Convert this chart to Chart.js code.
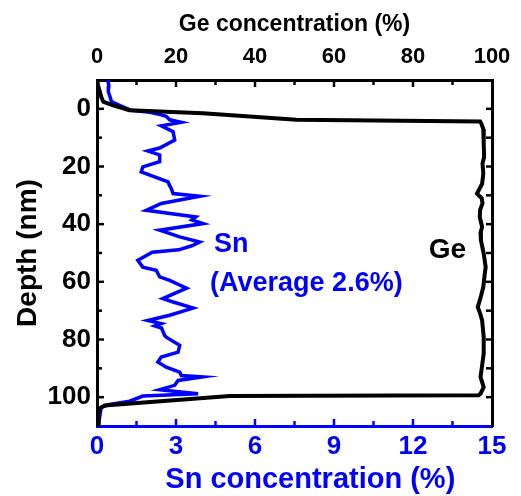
<!DOCTYPE html>
<html>
<head>
<meta charset="utf-8">
<script src="https://cdn.jsdelivr.net/npm/chart.js@4"></script>
<style>
  body { margin: 0; background: #fff; }
</style>
</head>
<body>
<canvas id="depthChart" width="521" height="496"></canvas>
<script>
// depth profile (depth in nm, concentration in %)
const snDepth = [-10, -8, -6, -4, -2.5, -1, 0.5, 1.2, 2, 2.6, 3.8, 4.7, 5.9, 7.9, 10.8, 13.6, 14.6, 16, 18.3,
  20.1, 21.9, 25.3, 26.5, 27.6, 29.4, 30.3, 32.8, 35.2, 37.5, 38.5, 39.8, 42.1, 44.4, 46.2, 47.5, 48.9, 49.7,
  52.5, 54.9, 56, 58.3, 59.5, 62.2, 65.8, 67, 69.1, 71.6, 73.4, 74.5, 75.3, 76, 78.6, 79.2, 82, 84.4, 86.1,
  87.8, 89.6, 91.3, 92.5, 93, 94.2, 95.9, 97.4, 98, 98.8, 99.6, 101.4, 102.5, 103.5, 107, 110];
const snConc = [0.41, 0.45, 0.43, 0.5, 0.55, 0.9, 1.3, 2.0, 2.4, 2.63, 2.76, 3.2, 2.44, 2.89, 2.95, 2.38, 1.93, 2.38, 2.38,
  1.74, 1.68, 2.7, 2.75, 2.82, 2.89, 3.9, 2.44, 1.87, 3.75, 3.6, 4.03, 2.38, 3.14, 3.9, 3.6, 3.1, 2.1,
  1.55, 1.74, 2.25, 2.38, 2.76, 3.4, 2.5, 2.89, 3.65, 2.76, 1.93, 2.44, 2.2, 2.45, 2.57, 2.63, 3.14, 3.08, 2.44,
  2.31, 2.63, 3.14, 3.2, 4.0, 3.08, 2.95, 2.38, 3.01, 3.84, 1.74, 1.24, 0.48, 0.16, 0.1, 0.05];

const geDepth = [-10, -8, -6, -4, -2.5, -1.5, 0.5, 1.5, 3.8, 4.4, 5.1, 7, 12, 16.7, 19, 22.4, 26, 29.4, 31, 32.8,
  35, 37.5, 41, 43, 45.6, 50.2, 54.9, 58, 61.8, 65, 68.8, 71, 73.4, 79.2, 84.9, 90, 93, 96.5, 98.8, 99.3,
  99.6, 102.9, 104, 106, 110];
const geConc = [0, 0.3, 0.7, 1.1, 1.6, 3.5, 8.2, 26.8, 50.5, 97, 97.3, 97.8, 97.9, 98, 97.6, 97.8, 97.5, 96.2, 97.4, 97.6,
  97, 96.9, 97.5, 97.1, 97.2, 97.9, 98.4, 98.1, 97.8, 97.2, 96.4, 97, 97.5, 97.9, 97.9, 97.4, 97.1, 97.9, 97.1, 96.6,
  33.6, 1.9, 0.6, 0.4, 0.4];

const snTicks = [0, 3, 6, 9, 12, 15];
const geTicks = [0, 20, 40, 60, 80, 100];
const depthTicks = [0, 20, 40, 60, 80, 100];

const BLUE = '#0000ff';
const FONT = 'Liberation Sans, Arial, sans-serif';

function toPoints(xs, ys) {
  var pts = [];
  for (var i = 0; i < xs.length; i++) pts.push({ x: xs[i], y: ys[i] });
  return pts;
}

// tick marks drawn on the inside of the frame
const innerTicks = {
  id: 'innerTicks',
  afterDraw(chart) {
    const ctx = chart.ctx;
    const a = chart.chartArea;
    const s = chart.scales;
    ctx.save();
    ctx.lineWidth = 2.5;
    // bottom (Sn)
    ctx.strokeStyle = BLUE;
    s.x.ticks.forEach(function (t) {
      if (t.value <= 0 || t.value >= 15) return;
      const px = s.x.getPixelForValue(t.value);
      const len = snTicks.includes(t.value) ? 7 : 5;
      ctx.beginPath(); ctx.moveTo(px, a.bottom); ctx.lineTo(px, a.bottom - len); ctx.stroke();
    });
    // top (Ge)
    ctx.strokeStyle = '#000';
    s.x2.ticks.forEach(function (t) {
      if (t.value <= 0 || t.value >= 100) return;
      const px = s.x2.getPixelForValue(t.value);
      const len = geTicks.includes(t.value) ? 7 : 5;
      ctx.beginPath(); ctx.moveTo(px, a.top); ctx.lineTo(px, a.top + len); ctx.stroke();
    });
    // left and right (depth)
    s.y.ticks.forEach(function (t) {
      if (t.value <= -10 || t.value >= 110) return;
      const py = s.y.getPixelForValue(t.value);
      const len = depthTicks.includes(t.value) ? 7 : 5;
      ctx.beginPath(); ctx.moveTo(a.left, py); ctx.lineTo(a.left + len, py); ctx.stroke();
      ctx.beginPath(); ctx.moveTo(a.right, py); ctx.lineTo(a.right - 6, py); ctx.stroke();
    });
    ctx.restore();
  }
};

// text labels inside the plot, plus the Sn axis title (sits a bit right of centre)
const plotLabels = {
  id: 'plotLabels',
  afterDraw(chart) {
    const ctx = chart.ctx;
    const s = chart.scales;
    ctx.save();
    ctx.textAlign = 'center';
    ctx.textBaseline = 'middle';
    ctx.fillStyle = BLUE;
    ctx.font = 'bold 27px ' + FONT;
    ctx.fillText('Sn', s.x.getPixelForValue(5.1), s.y.getPixelForValue(47));
    ctx.fillText('(Average 2.6%)', s.x.getPixelForValue(7.95), s.y.getPixelForValue(60.5));
    ctx.font = 'bold 29px ' + FONT;
    ctx.fillText('Sn concentration (%)', s.x.getPixelForValue(8.1), 480);
    ctx.fillStyle = '#000';
    ctx.font = 'bold 28px ' + FONT;
    ctx.fillText('Ge', s.x2.getPixelForValue(88.7), s.y.getPixelForValue(49));
    ctx.restore();
  }
};

var ctx = document.getElementById('depthChart').getContext('2d');
var myChart = new Chart(ctx, {
  type: 'scatter',
  data: {
    datasets: [{
      label: 'Ge',
      data: toPoints(geConc, geDepth),
      xAxisID: 'x2',
      yAxisID: 'y',
      showLine: true,
      borderColor: '#000',
      borderWidth: 4,
      pointRadius: 0,
      tension: 0
    }, {
      label: 'Sn',
      data: toPoints(snConc, snDepth),
      xAxisID: 'x',
      yAxisID: 'y',
      showLine: true,
      borderColor: BLUE,
      borderWidth: 3.5,
      pointRadius: 0,
      tension: 0
    }]
  },
  options: {
    responsive: false,
    animation: false,
    layout: { padding: 0 },
    plugins: {
      legend: { display: false },
      tooltip: { enabled: false }
    },
    scales: {
      x: {
        type: 'linear',
        position: 'bottom',
        min: 0, max: 15,
        afterFit: function (sc) { sc.height = 70; },
        grid: { display: false, drawTicks: false },
        border: { display: true, color: BLUE, width: 3 },
        ticks: {
          stepSize: 1.5,
          autoSkip: false,
          maxRotation: 0,
          padding: 5,
          color: BLUE,
          font: { family: FONT, size: 26, weight: 'bold' },
          callback: function (v) { return snTicks.includes(v) ? String(v) : ''; }
        },
        title: { display: false }
      },
      x2: {
        type: 'linear',
        position: 'top',
        min: 0, max: 100,
        afterFit: function (sc) { sc.height = 80; },
        grid: { display: false, drawTicks: false },
        border: { display: true, color: '#000', width: 3 },
        ticks: {
          stepSize: 10,
          autoSkip: false,
          maxRotation: 0,
          padding: 10,
          color: '#000',
          font: { family: FONT, size: 22, weight: 'bold' },
          callback: function (v) { return geTicks.includes(v) ? String(v) : ''; }
        },
        title: {
          display: true,
          text: 'Ge concentration (%)',
          color: '#000',
          padding: { top: 11, bottom: 0 },
          font: { family: FONT, size: 23, weight: 'bold' }
        }
      },
      y: {
        type: 'linear',
        position: 'left',
        reverse: true,
        min: -10, max: 110,
        afterFit: function (sc) { sc.width = 97; },
        grid: { display: false, drawTicks: false },
        border: { display: true, color: '#000', width: 3 },
        ticks: {
          stepSize: 10,
          autoSkip: false,
          padding: 6,
          color: '#000',
          font: { family: FONT, size: 26, weight: 'bold' },
          callback: function (v) { return depthTicks.includes(v) ? String(v) : ''; }
        },
        title: {
          display: true,
          text: 'Depth (nm)',
          color: '#000',
          padding: { top: 11, bottom: 0 },
          font: { family: FONT, size: 28, weight: 'bold' }
        }
      },
      y2: {
        type: 'linear',
        position: 'right',
        reverse: true,
        min: -10, max: 110,
        afterFit: function (sc) { sc.width = 29; },
        grid: { display: false, drawTicks: false },
        border: { display: true, color: '#000', width: 3 },
        ticks: { display: false }
      }
    }
  },
  plugins: [innerTicks, plotLabels]
});
</script>
</body>
</html>
